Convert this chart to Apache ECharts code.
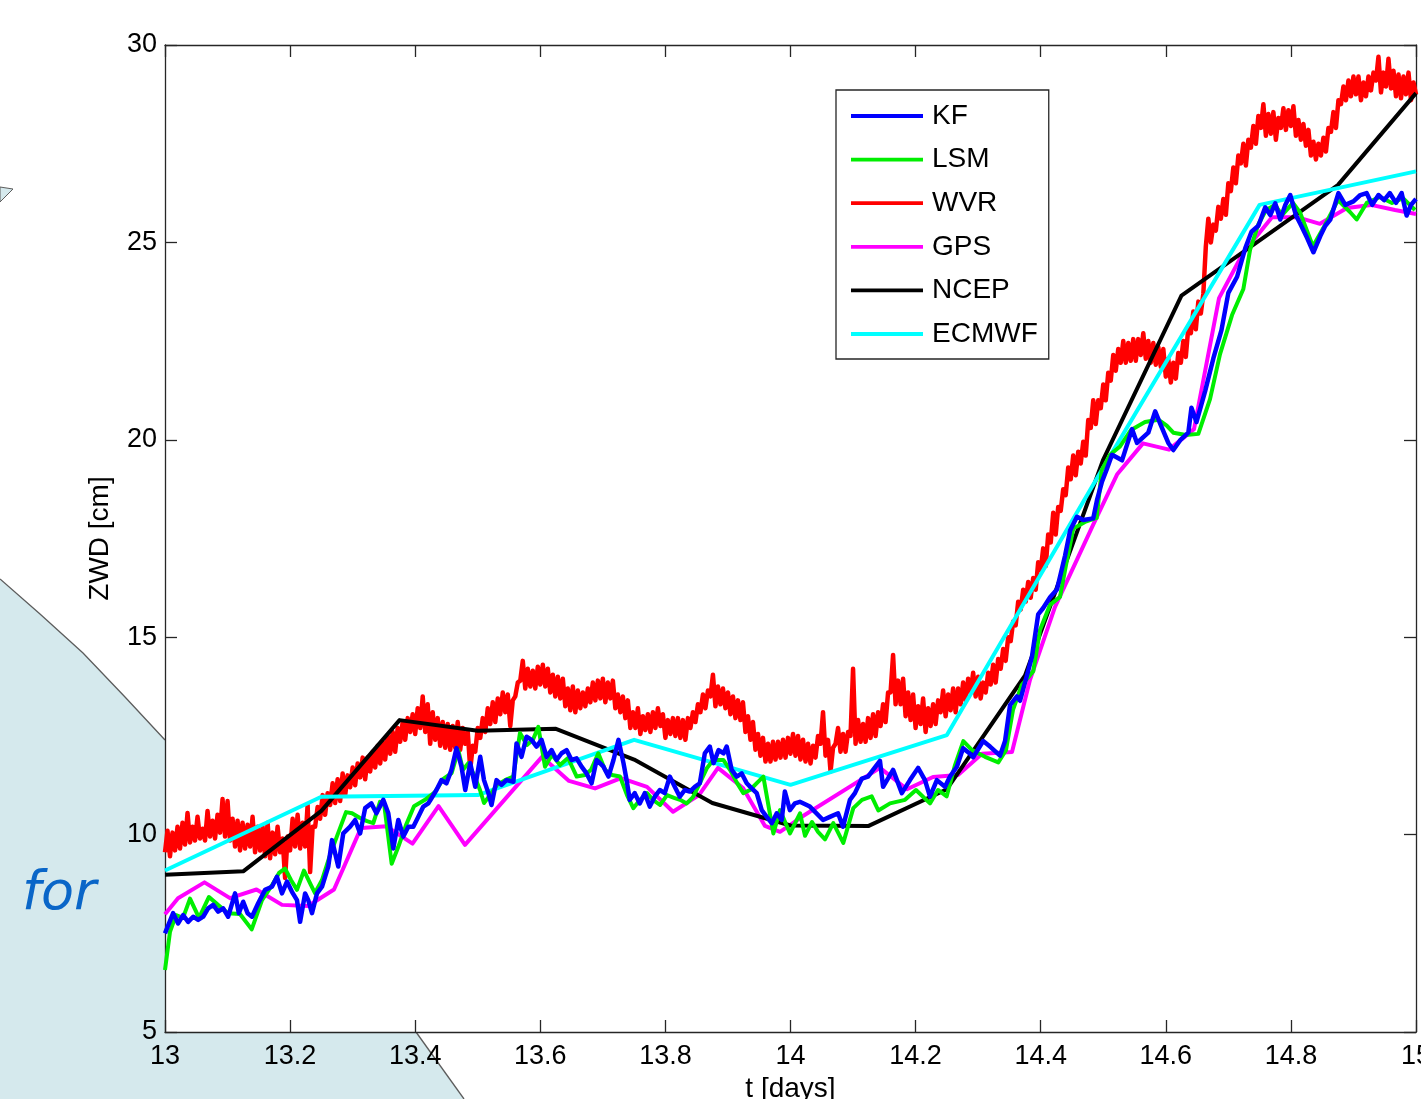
<!DOCTYPE html>
<html>
<head>
<meta charset="utf-8">
<script src="https://cdn.jsdelivr.net/npm/echarts@6/dist/echarts.min.js"></script>
<style>
html,body{margin:0;padding:0;background:#fff;}
#c{width:1421px;height:1099px;}
</style>
</head>
<body>
<div id="c"></div>
<script>
// ---------------- data ----------------
const seriesNames = ['KF','LSM','WVR','GPS','NCEP','ECMWF'];
const xTickMin = 13, xTickMax = 15, xTickStep = 0.2;
const yTickMin = 5, yTickMax = 30, yTickStep = 5;

const kfT = [
13.000,13.013,13.021,13.029,13.037,13.045,13.053,13.061,13.069,13.077,
13.085,13.093,13.101,13.112,13.118,13.125,13.132,13.139,13.149,13.160,
13.171,13.179,13.187,13.195,13.203,13.211,13.216,13.224,13.229,13.235,
13.243,13.251,13.261,13.267,13.277,13.285,13.296,13.304,13.312,13.320,
13.330,13.338,13.349,13.357,13.365,13.373,13.381,13.389,13.397,13.405,
13.413,13.421,13.426,13.434,13.442,13.450,13.458,13.466,13.474,13.480,
13.488,13.496,13.504,13.510,13.517,13.522,13.530,13.538,13.546,13.557,
13.562,13.570,13.578,13.586,13.594,13.602,13.610,13.618,13.626,13.634,
13.642,13.650,13.658,13.666,13.674,13.682,13.690,13.701,13.709,13.717,
13.725,13.733,13.738,13.743,13.751,13.759,13.767,13.775,13.783,13.791,
13.799,13.807,13.815,13.823,13.831,13.839,13.847,13.855,13.863,13.871,
13.877,13.885,13.893,13.898,13.906,13.914,13.922,13.930,13.938,13.946,
13.954,13.962,13.970,13.978,13.986,13.991,13.999,14.007,14.015,14.031,
14.052,14.063,14.076,14.084,14.095,14.103,14.114,14.124,14.132,14.143,
14.148,14.164,14.178,14.191,14.204,14.215,14.223,14.234,14.247,14.255,
14.266,14.276,14.287,14.292,14.308,14.319,14.335,14.343,14.351,14.362,
14.367,14.386,14.396,14.404,14.415,14.426,14.439,14.447,14.458,14.468,
14.484,14.490,14.498,14.506,14.514,14.530,14.546,14.554,14.572,14.583,
14.592,14.604,14.612,14.623,14.636,14.641,14.649,14.663,14.676,14.689,
14.700,14.714,14.727,14.737,14.748,14.759,14.767,14.775,14.783,14.791,
14.799,14.808,14.815,14.826,14.836,14.847,14.855,14.863,14.876,14.887,
14.900,14.911,14.921,14.930,14.940,14.949,14.958,14.968,14.977,14.985,
14.992,15.000];
const kfZ = [
7.50,8.01,7.75,7.96,7.79,7.92,7.84,7.92,8.13,8.22,
8.05,8.13,7.92,8.51,8.01,8.30,8.01,7.92,8.26,8.60,
8.68,8.93,8.51,8.81,8.55,8.34,7.79,8.51,8.34,8.01,
8.51,8.68,9.19,9.86,9.19,10.03,10.20,10.37,10.03,10.67,
10.79,10.54,10.88,10.54,9.65,10.37,9.95,10.20,10.20,10.45,
10.71,10.79,10.92,11.13,11.38,11.30,11.64,12.19,11.72,11.13,
11.81,11.21,11.97,11.38,11.05,10.75,11.38,11.26,11.38,11.34,
12.31,11.97,12.48,12.40,12.23,12.40,11.97,12.14,11.89,12.06,
12.14,11.89,11.93,11.72,11.55,11.30,11.89,11.72,11.47,11.89,
12.40,11.81,11.38,10.88,11.05,10.79,11.05,10.71,10.96,11.13,
11.05,11.47,11.21,10.96,11.13,11.09,11.21,11.30,12.06,12.23,
11.81,12.14,12.06,12.23,11.64,11.47,11.55,11.30,11.17,11.05,
10.62,10.45,10.29,10.54,10.37,11.09,10.62,10.79,10.83,10.71,
10.37,10.45,10.54,10.20,10.88,11.05,11.42,11.47,11.64,11.87,
11.21,11.64,11.05,11.38,11.69,11.38,10.96,11.38,11.21,11.47,
11.72,12.19,12.05,11.96,12.37,12.23,12.00,12.37,13.28,13.50,
13.39,14.50,15.58,15.74,16.01,16.21,17.07,17.70,18.05,17.97,
18.01,18.47,18.94,19.27,19.62,19.48,20.27,19.92,20.18,20.72,
20.37,19.92,19.74,19.99,20.18,20.81,20.45,21.24,22.06,22.78,
23.72,24.13,24.85,25.27,25.42,25.89,25.69,25.99,25.58,25.95,
26.20,25.69,25.47,25.11,24.75,25.16,25.42,25.58,26.25,25.95,
26.04,26.20,26.25,25.95,26.20,26.07,26.25,26.00,26.25,25.68,
25.95,26.10];

const lsmT = [
13.000,13.008,13.0176,13.0288,13.040,13.0544,13.0703,13.0847,13.1007,13.1199,
13.1386,13.1551,13.1711,13.1823,13.1918,13.2014,13.2110,13.2222,13.2334,13.2398,
13.2510,13.2638,13.2750,13.2894,13.2990,13.3118,13.3229,13.3330,13.3437,13.3501,
13.3624,13.3730,13.3853,13.3981,13.4157,13.4317,13.4449,13.4583,13.4689,13.4764,
13.4849,13.4940,13.5036,13.5100,13.5196,13.5308,13.5436,13.5568,13.5675,13.5787,
13.5883,13.5968,13.6075,13.6187,13.6315,13.6443,13.6582,13.6715,13.6811,13.6927,
13.7034,13.7146,13.7274,13.7386,13.7487,13.7594,13.7706,13.7802,13.7914,13.8026,
13.8138,13.8234,13.8341,13.8441,13.8553,13.8665,13.8766,13.8926,13.9033,13.9145,
13.9246,13.9353,13.9465,13.9566,13.9726,13.9832,13.9992,14.0152,14.0232,14.0344,
14.0440,14.0552,14.0684,14.0844,14.1004,14.1143,14.1298,14.1404,14.1591,14.1831,
14.2006,14.2230,14.2358,14.2497,14.2630,14.2763,14.2902,14.3110,14.3322,14.3445,
14.3557,14.3697,14.3882,14.3989,14.4149,14.4309,14.4405,14.4521,14.4708,14.4895,
14.4975,14.5108,14.5268,14.5444,14.5668,14.5881,14.6015,14.6120,14.6323,14.6520,
14.6707,14.6867,14.7059,14.7240,14.7347,14.7475,14.7602,14.7746,14.7858,14.8034,
14.8146,14.8353,14.8545,14.8753,14.8945,14.9052,14.9212,14.9424,14.9616,14.9792,
14.9984];
const lsmZ = [
6.57,7.54,7.96,7.89,8.38,7.89,8.42,8.22,8.01,7.99,
7.60,8.34,8.72,9.03,9.14,8.85,8.60,9.09,8.72,8.52,
8.85,9.48,9.96,10.57,10.54,10.42,10.34,10.29,10.83,10.80,
9.26,9.69,10.24,10.72,10.88,11.08,11.41,11.56,12.14,11.64,
11.81,11.51,11.13,10.80,11.00,11.26,11.38,11.47,12.57,12.27,
12.40,12.73,11.72,12.02,11.76,11.94,11.47,11.51,11.64,12.06,
11.64,11.51,11.47,11.00,10.67,10.88,11.05,10.88,10.75,11.00,
10.93,10.88,10.79,10.95,11.31,11.69,11.89,11.89,11.64,11.31,
11.05,11.13,11.31,11.47,10.03,10.62,10.03,10.54,9.97,10.32,
10.07,9.88,10.29,9.79,10.67,10.88,10.97,10.61,10.79,10.88,
11.13,10.79,11.13,10.97,11.76,12.37,12.14,11.97,11.83,12.14,
13.16,13.79,14.14,15.18,15.82,16.02,16.83,17.75,17.92,18.02,
19.23,19.62,19.83,20.25,20.45,20.51,20.36,20.18,20.12,20.15,
21.03,22.17,23.16,23.82,24.81,25.44,25.82,25.95,25.69,26.00,
25.76,24.90,25.44,26.07,25.77,25.58,26.00,26.15,26.00,26.12,
25.82];

const wvrT = [
13.000,13.004,13.008,13.012,13.016,13.020,13.024,13.028,13.032,13.036,13.040,13.044,13.048,13.052,13.056,13.060,13.064,13.068,13.072,13.076,
13.080,13.084,13.088,13.092,13.096,13.100,13.104,13.108,13.112,13.116,13.120,13.124,13.128,13.132,13.136,13.140,13.144,13.148,13.152,13.156,
13.160,13.164,13.168,13.172,13.176,13.180,13.184,13.188,13.192,13.196,13.200,13.204,13.208,13.212,13.216,13.220,13.224,13.228,13.232,13.236,
13.240,13.244,13.248,13.252,13.256,13.260,13.264,13.268,13.272,13.276,13.280,13.284,13.288,13.292,13.296,13.300,13.304,13.308,13.312,13.316,
13.320,13.324,13.328,13.332,13.336,13.340,13.344,13.348,13.352,13.356,13.360,13.364,13.368,13.372,13.376,13.380,13.384,13.388,13.392,13.396,
13.400,13.404,13.408,13.412,13.416,13.420,13.424,13.428,13.432,13.436,13.440,13.444,13.448,13.452,13.456,13.460,13.464,13.468,13.472,13.476,
13.480,13.484,13.488,13.492,13.496,13.500,13.504,13.508,13.512,13.516,13.520,13.524,13.528,13.532,13.536,13.540,13.544,13.548,13.552,13.556,
13.560,13.564,13.568,13.572,13.576,13.580,13.584,13.588,13.592,13.596,13.600,13.604,13.608,13.612,13.616,13.620,13.624,13.628,13.632,13.636,
13.640,13.644,13.648,13.652,13.656,13.660,13.664,13.668,13.672,13.676,13.680,13.684,13.688,13.692,13.696,13.700,13.704,13.708,13.712,13.716,
13.720,13.724,13.728,13.732,13.736,13.740,13.744,13.748,13.752,13.756,13.760,13.764,13.768,13.772,13.776,13.780,13.784,13.788,13.792,13.796,
13.800,13.804,13.808,13.812,13.816,13.820,13.824,13.828,13.832,13.836,13.840,13.844,13.848,13.852,13.856,13.860,13.864,13.868,13.872,13.876,
13.880,13.884,13.888,13.892,13.896,13.900,13.904,13.908,13.912,13.916,13.920,13.924,13.928,13.932,13.936,13.940,13.944,13.948,13.952,13.956,
13.960,13.964,13.968,13.972,13.976,13.980,13.984,13.988,13.992,13.996,14.000,14.004,14.008,14.012,14.016,14.020,14.024,14.028,14.032,14.036,
14.040,14.044,14.048,14.052,14.056,14.060,14.064,14.068,14.072,14.076,14.080,14.084,14.088,14.092,14.096,14.100,14.104,14.108,14.112,14.116,
14.120,14.124,14.128,14.132,14.136,14.140,14.144,14.148,14.152,14.156,14.160,14.164,14.168,14.172,14.176,14.180,14.184,14.188,14.192,14.196,
14.200,14.204,14.208,14.212,14.216,14.220,14.224,14.228,14.232,14.236,14.240,14.244,14.248,14.252,14.256,14.260,14.264,14.268,14.272,14.276,
14.280,14.284,14.288,14.292,14.296,14.300,14.304,14.308,14.312,14.316,14.320,14.324,14.328,14.332,14.336,14.340,14.344,14.348,14.352,14.356,
14.360,14.364,14.368,14.372,14.376,14.380,14.384,14.388,14.392,14.396,14.400,14.404,14.408,14.412,14.416,14.420,14.424,14.428,14.432,14.436,
14.440,14.444,14.448,14.452,14.456,14.460,14.464,14.468,14.472,14.476,14.480,14.484,14.488,14.492,14.496,14.500,14.504,14.508,14.512,14.516,
14.520,14.524,14.528,14.532,14.536,14.540,14.544,14.548,14.552,14.556,14.560,14.564,14.568,14.572,14.576,14.580,14.584,14.588,14.592,14.596,
14.600,14.604,14.608,14.612,14.616,14.620,14.624,14.628,14.632,14.636,14.640,14.644,14.648,14.652,14.656,14.660,14.664,14.668,14.672,14.676,
14.680,14.684,14.688,14.692,14.696,14.700,14.704,14.708,14.712,14.716,14.720,14.724,14.728,14.732,14.736,14.740,14.744,14.748,14.752,14.756,
14.760,14.764,14.768,14.772,14.776,14.780,14.784,14.788,14.792,14.796,14.800,14.804,14.808,14.812,14.816,14.820,14.824,14.828,14.832,14.836,
14.840,14.844,14.848,14.852,14.856,14.860,14.864,14.868,14.872,14.876,14.880,14.884,14.888,14.892,14.896,14.900,14.904,14.908,14.912,14.916,
14.920,14.924,14.928,14.932,14.936,14.940,14.944,14.948,14.952,14.956,14.960,14.964,14.968,14.972,14.976,14.980,14.984,14.988,14.992,14.996,
15.000];
const wvrZ = [
9.55,10.10,9.45,10.05,9.60,10.20,9.65,10.30,9.75,10.55,9.80,10.20,9.85,10.45,9.90,10.15,9.85,10.60,9.95,10.35,
9.90,10.50,10.05,10.90,9.95,10.85,9.85,10.40,9.70,10.35,9.60,10.30,9.65,10.25,9.70,10.45,9.55,10.20,9.60,10.20,
9.45,10.30,9.40,10.05,9.50,10.20,9.55,9.90,8.90,9.95,9.60,10.40,9.70,10.50,9.65,10.30,9.70,10.75,9.05,10.20,
10.20,10.70,10.40,11.00,10.50,11.05,10.75,11.30,10.80,11.40,10.85,11.55,11.00,11.50,11.20,11.70,11.25,11.80,11.45,11.95,
11.40,11.95,11.60,12.10,11.70,12.25,11.80,12.35,11.90,12.50,12.05,12.60,12.10,12.70,12.35,12.85,12.40,12.95,12.60,13.05,
12.55,13.20,12.70,13.50,12.60,13.30,12.30,13.10,12.40,12.95,12.25,12.85,12.20,12.80,12.15,12.75,12.20,12.85,12.15,12.70,
12.30,12.60,11.65,12.25,12.10,12.70,12.45,12.95,12.60,13.20,12.80,13.35,12.85,13.45,13.05,13.60,13.10,13.55,12.75,13.40,
13.50,13.85,13.90,14.40,13.70,14.20,13.75,14.15,13.70,14.25,13.80,14.30,13.75,14.20,13.60,14.05,13.50,14.00,13.45,13.95,
13.25,13.70,13.15,13.75,13.10,13.65,13.20,13.60,13.25,13.70,13.35,13.85,13.40,13.90,13.45,13.95,13.35,13.85,13.45,13.90,
13.20,13.55,13.10,13.50,12.95,13.40,12.70,13.10,12.70,13.20,12.55,13.00,12.65,13.05,12.60,13.10,12.70,13.20,12.75,13.05,
12.45,12.90,12.55,12.95,12.50,12.95,12.45,12.90,12.40,12.95,12.70,13.10,12.85,13.30,13.10,13.55,13.20,13.65,13.50,14.05,
13.25,13.75,13.30,13.70,13.20,13.60,13.05,13.50,12.95,13.40,12.90,13.35,12.60,13.00,12.40,12.85,12.15,12.55,12.00,12.45,
11.85,12.30,11.85,12.35,11.90,12.35,11.95,12.40,11.95,12.45,12.05,12.55,12.00,12.50,11.90,12.40,11.85,12.30,11.80,12.25,
11.95,12.50,12.30,13.10,12.00,12.40,11.60,12.20,12.30,12.70,12.10,12.55,12.10,12.60,12.50,14.20,12.30,12.90,12.35,12.80,
12.35,12.95,12.45,13.05,12.50,13.10,12.75,13.30,12.85,13.60,13.60,14.55,13.30,13.90,13.30,13.95,13.00,13.60,12.90,13.55,
12.70,13.25,12.80,13.45,12.60,13.20,12.75,13.30,12.80,13.40,13.10,13.65,13.00,13.55,13.15,13.70,13.10,13.70,13.30,13.85,
13.40,13.95,13.60,14.10,13.50,14.00,13.45,13.85,13.60,14.10,13.80,14.30,13.85,14.45,14.20,14.70,14.40,15.00,14.90,15.40,
15.30,15.90,15.70,16.20,15.90,16.40,16.00,16.50,16.20,16.90,16.70,17.25,16.80,17.60,17.40,18.15,17.60,18.30,18.20,18.75,
18.60,19.30,19.00,19.60,19.10,19.70,19.40,19.95,19.60,20.50,20.30,21.00,20.40,21.00,20.80,21.40,21.00,21.70,21.50,22.15,
21.75,22.30,21.95,22.50,21.95,22.45,22.00,22.55,22.00,22.55,22.15,22.70,22.05,22.50,21.95,22.45,21.90,22.35,21.85,22.30,
21.60,22.05,21.45,21.95,21.55,22.20,21.95,22.50,22.10,22.85,22.70,23.25,22.80,23.50,23.20,23.70,24.90,25.60,25.00,25.45,
25.30,25.90,25.60,26.10,25.70,26.50,26.30,26.90,26.50,27.20,27.00,27.50,26.95,27.60,27.40,27.95,27.50,28.20,27.90,28.50,
27.70,28.25,27.75,28.30,27.60,28.15,27.90,28.40,27.85,28.35,27.95,28.45,27.70,28.10,27.60,28.00,27.45,27.85,27.20,27.55,
27.10,27.50,27.20,27.65,27.30,27.90,27.80,28.30,27.90,28.60,28.50,28.95,28.60,29.10,28.70,29.20,28.75,29.20,28.60,29.05,
28.70,29.20,28.85,29.30,29.10,29.70,28.80,29.30,28.95,29.65,28.90,29.35,28.70,29.25,28.65,29.20,28.75,29.30,28.60,29.05,
28.75];

const gpsT = [13.000,13.0208,13.0631,13.1039,13.1463,13.1871,13.2286,13.2702,13.3134,13.3541,
13.3957,13.4373,13.4796,13.6027,13.6459,13.6875,13.7290,13.7706,13.8122,13.8537,
13.8841,13.9241,13.9592,13.9832,14.0200,14.1431,14.1863,14.2278,14.2678,14.3062,
14.3541,14.3829,14.4229,14.4836,14.5220,14.5635,14.6051,14.6451,14.6851,14.7235,
14.7698,14.8098,14.8465,14.8896,14.9281,14.9664,15.000];
const gpsZ = [7.98,8.39,8.79,8.39,8.61,8.22,8.19,8.61,10.17,10.21,
9.77,10.72,9.74,11.97,11.36,11.17,11.43,11.21,10.58,11.00,
11.69,11.18,10.22,10.07,10.47,11.69,11.15,11.46,11.51,12.05,
12.09,13.92,15.77,17.84,19.12,19.91,19.75,20.27,23.59,24.73,
25.64,25.64,25.47,25.87,25.95,25.82,25.72];

const ncepT = [13,13.125,13.25,13.375,13.5,13.625,13.75,13.875,14,14.125,14.25,14.375,14.5,14.625,14.75,14.875,15];
const ncepZ = [8.98,9.07,10.6,12.9,12.63,12.68,11.9,10.8,10.23,10.22,11.15,14.03,19.5,23.65,25.05,26.45,28.78];

const ecmT = [13,13.25,13.5,13.75,14,14.25,14.5,14.75,15];
const ecmZ = [9.09,10.96,11.0,12.4,11.26,12.52,19.3,25.95,26.8];

// ---------------- build ----------------
function zip(t, z){ const n = Math.min(t.length, z.length); const out = []; for (let i=0;i<n;i++) out.push([t[i], z[i]]); return out; }

const FONT = '"Liberation Sans", Arial, Helvetica, sans-serif';
const AX = '#262626';
const chart = echarts.init(document.getElementById('c'), null, {renderer:'canvas'});

function axisBase(extra){
  return Object.assign({
    type:'value',
    splitLine:{show:false},
    axisLine:{show:true, onZero:false, lineStyle:{color:AX, width:1.3}},
    axisTick:{show:true, inside:true, length:12, lineStyle:{color:AX, width:1.3}}
  }, extra);
}

function lineSeries(name, data, color, width, z){
  return {name:name, type:'line', data:data, symbol:'none', showSymbol:false,
    color:color, lineStyle:{color:color, width:width, join:'round'}, itemStyle:{color:color},
    z:z, silent:true, animation:false, xAxisIndex:0, yAxisIndex:0, clip:true};
}

const option = {
  animation:false,
  backgroundColor:'#ffffff',
  textStyle:{fontFamily:FONT},
  grid:{left:165, top:45, right:5, bottom:67, show:true, backgroundColor:'#ffffff', borderWidth:0, containLabel:false, outerBoundsMode:'none'},
  graphic:[
    {type:'polygon', z:-5, silent:true,
      shape:{points:[[0,579],[40,614],[83,653],[125,697],[165,740],[165,1032],[416,1032],[464,1099],[0,1099]]},
      style:{fill:'#d5e9ed', stroke:null}},
    {type:'polyline', z:-4, silent:true,
      shape:{points:[[0,579],[40,614],[83,653],[125,697],[165,740]]},
      style:{stroke:'#5c5c5c', lineWidth:1.3, fill:null}},
    {type:'polyline', z:-4, silent:true,
      shape:{points:[[416,1032],[464,1099]]},
      style:{stroke:'#5c5c5c', lineWidth:1.3, fill:null}},
    {type:'polygon', z:-4, silent:true,
      shape:{points:[[0,187],[13,189],[0,202]]},
      style:{fill:'#d5e9ed', stroke:'#5c5c5c', lineWidth:1}},
    {type:'text', z:-3, silent:true,
      style:{x:22, y:895, text:'for', font:'italic 54px "DejaVu Sans"', fill:'#0a66c8', verticalAlign:'middle', align:'left'}}
  ],
  legend:{
    orient:'vertical', left:836, top:90,
    padding:[11,11,10,15],
    itemGap:13.6, itemWidth:72, itemHeight:3.8,
    icon:'rect',
    backgroundColor:'#ffffff', borderColor:AX, borderWidth:1.3, borderRadius:0,
    textStyle:{fontSize:28, color:'#000', lineHeight:30, padding:[0,0,0,4], fontFamily:FONT},
    data:seriesNames, z:10, selectedMode:false
  },
  xAxis:[
    axisBase({min:xTickMin, max:xTickMax, interval:xTickStep, position:'bottom',
      name:'t [days]', nameLocation:'middle', nameGap:43,
      nameTextStyle:{fontSize:28, color:'#000', fontFamily:FONT},
      axisLabel:{show:true, fontSize:27, color:'#000', margin:11, fontFamily:FONT,
        showMinLabel:true, showMaxLabel:true, hideOverlap:false,
        formatter:function(v){ return String(Math.round(v*10)/10); }}}),
    axisBase({min:xTickMin, max:xTickMax, interval:xTickStep, position:'top', axisLabel:{show:false}})
  ],
  yAxis:[
    axisBase({min:yTickMin, max:yTickMax, interval:yTickStep, position:'left',
      name:'ZWD [cm]', nameLocation:'middle', nameGap:51,
      nameTextStyle:{fontSize:28, color:'#000', fontFamily:FONT},
      axisLabel:{show:true, fontSize:27, color:'#000', margin:8, fontFamily:FONT,
        showMinLabel:true, showMaxLabel:true, hideOverlap:false}}),
    axisBase({min:yTickMin, max:yTickMax, interval:yTickStep, position:'right', axisLabel:{show:false}})
  ],
  series:[
    lineSeries('KF',    zip(kfT, kfZ),   '#0000ff', 4.5, 8),
    lineSeries('LSM',   zip(lsmT, lsmZ), '#00ee00', 4,   7),
    lineSeries('WVR',   zip(wvrT, wvrZ), '#ff0000', 4.5, 3),
    lineSeries('GPS',   zip(gpsT, gpsZ), '#ff00ff', 4,   4),
    lineSeries('NCEP',  zip(ncepT, ncepZ), '#000000', 4, 5),
    lineSeries('ECMWF', zip(ecmT, ecmZ),  '#00ffff', 4,   6)
  ]
};
chart.setOption(option);
</script>
</body>
</html>
